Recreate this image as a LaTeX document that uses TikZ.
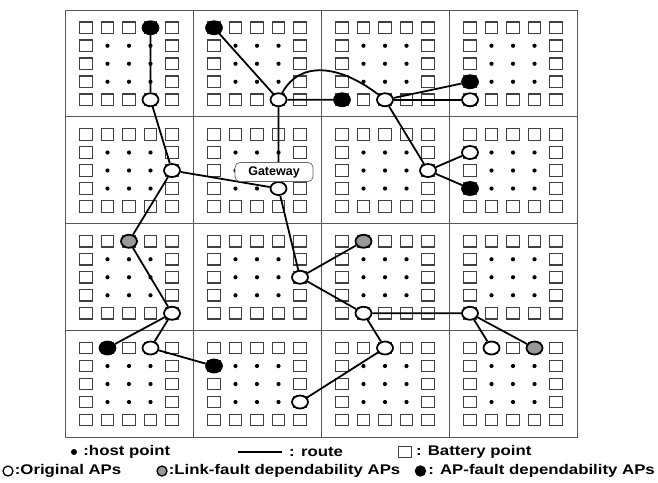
\documentclass[tikz,border=0pt]{standalone}
\usepackage{fontspec}
\setmainfont{Liberation Sans}
\newfontfamily\legendfont[FakeStretch=1.2]{Liberation Sans}
\usetikzlibrary{shapes.geometric,positioning}
\begin{document}
\begin{tikzpicture}[x=1pt, y=-1pt,
  cellline/.style={draw=black!65, line width=0.9pt},
  battery/.style={draw=black!75, line width=1.2pt, minimum width=12.5pt, minimum height=11.5pt, inner sep=0pt},
  host/.style={circle, fill=black, inner sep=0pt, minimum size=4.2pt},
  orig/.style={ellipse, draw=black, line width=1.8pt, fill=white, minimum width=16pt, minimum height=13pt, inner sep=0pt},
  apfault/.style={orig, fill=black},
  linkfault/.style={orig, fill=black!40},
  route/.style={line width=1.8pt},
  gateway/.style={draw=black!60, line width=0.7pt, rounded corners=5pt, fill=white, minimum width=78pt, minimum height=19pt, inner sep=0pt, font=\bfseries\fontsize{12.5}{12.5}\selectfont},
  legend/.style={inner sep=0pt, anchor=west, font=\legendfont\bfseries\fontsize{14}{14}\selectfont}]
\useasboundingbox (0,0) rectangle (658,482);

% cells
\draw[cellline] (65,10) rectangle (577,437);
\foreach \gx in {193,321,449} \draw[cellline] (\gx,10) -- (\gx,437);
\foreach \gy in {116.75,223.5,330.25} \draw[cellline] (65,\gy) -- (577,\gy);

% battery points on the rim, host points inside
\foreach \c in {0,...,3}
  \foreach \r in {0,...,3}
    \foreach \i in {0,...,4}
      \foreach \j in {0,...,4}{
        \coordinate (p\c\r\i\j) at ({86+128*\c+21.5*\i},{27.75+106.75*\r+18*\j});
        \pgfmathtruncatemacro{\rim}{(\i==0)||(\i==4)||(\j==0)||(\j==4)}
        \ifnum\rim=1
          \node[battery] (bt\c\r\i\j) at (p\c\r\i\j) {};
        \else
          \node[host] (hp\c\r\i\j) at (p\c\r\i\j) {};
        \fi
      }

% APs
\node[apfault] (ab00) at (p0030) {};
\node[orig] (ao00) at (p0034) {};
\node[apfault] (ab10) at (p1000) {};
\node[orig] (ao10) at (p1034) {};
\node[apfault] (ab20) at (p2004) {};
\node[orig] (ao20) at (p2024) {};
\node[apfault] (ab30) at (p3003) {};
\node[orig] (ao30) at (p3004) {};
\node[orig] (ao01) at (p0142) {};
\node[orig] (ao11) at (p1133) {};
\node[orig] (ao21) at (p2142) {};
\node[orig] (ao31) at (p3101) {};
\node[apfault] (ab31) at (p3103) {};
\node[linkfault] (ag02) at (p0220) {};
\node[orig] (ao02) at (p0244) {};
\node[orig] (ao12) at (p1242) {};
\node[linkfault] (ag22) at (p2210) {};
\node[orig] (ao22) at (p2214) {};
\node[orig] (ao32) at (p3204) {};
\node[apfault] (ab03) at (p0310) {};
\node[orig] (ao03) at (p0330) {};
\node[apfault] (ab13) at (p1301) {};
\node[orig] (ao13) at (p1343) {};
\node[orig] (ao23) at (p2320) {};
\node[orig] (ao33) at (p3310) {};
\node[linkfault] (ag33) at (p3330) {};

% routes
\draw[route] (ab00) -- (ao00) -- (ao01) -- (ao11);
\draw[route] (ab10) -- (ao10) -- (ab20);
\draw[route] (ao10) .. controls (300,60) and (340,65) .. (ao20);
\draw[route] (ao10) -- (ao11) -- (ao12);
\draw[route] (ao20) -- (ao30);
\draw[route] (ao20) -- (ab30);
\draw[route] (ao20) -- (ao21) -- (ao31);
\draw[route] (ao21) -- (ab31);
\draw[route] (ao01) -- (ag02) -- (ao02) -- (ab03);
\draw[route] (ao02) -- (ao03) -- (ab13);
\draw[route] (ao12) -- (ag22);
\draw[route] (ao12) -- (ao22) -- (ao32) -- (ao33);
\draw[route] (ao32) -- (ag33);
\draw[route] (ao22) -- (ao23) -- (ao13);

% gateway label
\node[gateway] (gw) at (274,172) {Gateway};

% legend
\node[host, minimum size=6pt] (lhost) at (74,452) {};
\node[legend, right=6pt of lhost] (lhosttext) {:host point};
\coordinate (lroutea) at (238,452);
\coordinate (lrouteb) at (282,452);
\draw[line width=1.2pt] (lroutea) -- (lrouteb);
\node[legend, right=7pt of lrouteb] (lroutetext) {: route};
\node[battery] (lbat) at (405,452) {};
\node[legend, right=4pt of lbat] (lbattext) {: Battery point};
\node[orig, minimum width=10pt, minimum height=10pt, line width=1.3pt] (lorig) at (8,471) {};
\node[legend, right=1pt of lorig] (lorigtext) {:Original APs};
\node[linkfault, minimum width=10pt, minimum height=10pt, line width=1.3pt] (llink) at (162,471) {};
\node[legend, right=1pt of llink] (llinktext) {:Link-fault dependability APs};
\node[legend, anchor=east] (laptext) at (655,471) {: AP-fault dependability APs};
\node[apfault, minimum width=10pt, minimum height=10pt, line width=1.3pt, left=2pt of laptext] (lap) {};
\end{tikzpicture}
\end{document}
